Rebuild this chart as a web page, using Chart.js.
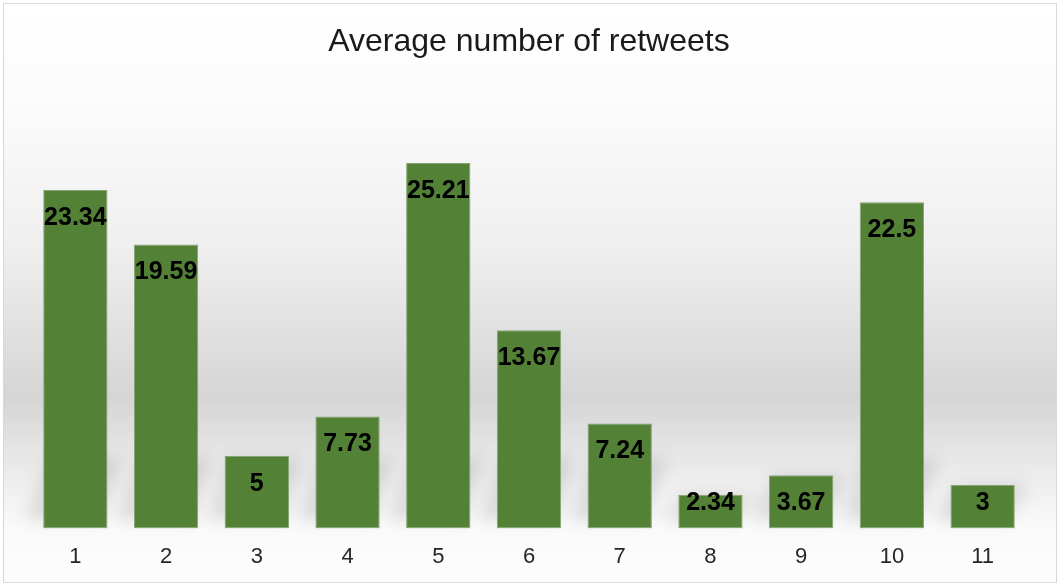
<!DOCTYPE html>
<html>
<head>
<meta charset="utf-8">
<script src="https://cdn.jsdelivr.net/npm/chart.js@4"></script>
<style>
  html, body { margin: 0; padding: 0; background: #fff; }
  #wrap { width: 1059px; height: 585px; }
</style>
</head>
<body>
<div id="wrap"><canvas id="chart"></canvas></div>
<script>
// data
const categories = ["1", "2", "3", "4", "5", "6", "7", "8", "9", "10", "11"]
const retweets = [23.34, 19.59, 5, 7.73, 25.21, 13.67, 7.24, 2.34, 3.67, 22.5, 3]
const chartTitle = "Average number of retweets"

// grey band behind the plot + frame
const backdrop = {
    id: "backdrop",
    beforeDraw(chart) {
        const c = chart.ctx
        const g = c.createLinearGradient(0, 3, 0, 583)
        g.addColorStop(0, "#ffffff")
        g.addColorStop(0.16, "#fcfcfc")
        g.addColorStop(0.42, "#efefef")
        g.addColorStop(0.68, "#d5d5d5")
        g.addColorStop(0.82, "#ededed")
        g.addColorStop(0.905, "#fafafa")
        g.addColorStop(1, "#fdfdfd")
        c.save()
        c.fillStyle = g
        c.fillRect(3, 3, 1054, 580)
        c.strokeStyle = "#d9d9d9"
        c.lineWidth = 1
        c.strokeRect(3.5, 3.5, 1053, 579)
        c.restore()
    }
}

// soft slanted shadow behind each bar
const barShadow = {
    id: "barShadow",
    beforeDatasetsDraw(chart) {
        const c = chart.ctx
        const meta = chart.getDatasetMeta(0)
        c.save()
        c.filter = "blur(8px)"
        c.fillStyle = "rgba(0,0,0,0.10)"
        meta.data.forEach(bar => {
            const half = bar.width / 2
            const left = bar.x - half, right = bar.x + half
            const base = bar.base
            const sh = Math.min(base - bar.y, 70)
            c.beginPath()
            c.moveTo(left - 18, base - 8)
            c.lineTo(right - 8, base - 8)
            c.lineTo(right + 14, base - sh)
            c.lineTo(left + 6, base - sh)
            c.closePath()
            c.fill()
        })
        c.restore()
    }
}

// value labels inside the top of each bar
const valueLabels = {
    id: "valueLabels",
    afterDatasetsDraw(chart) {
        const c = chart.ctx
        const meta = chart.getDatasetMeta(0)
        c.save()
        c.font = "bold 25px 'Liberation Sans', Arial, sans-serif"
        c.fillStyle = "#000"
        c.textAlign = "center"
        c.textBaseline = "middle"
        meta.data.forEach((bar, i) => {
            const y = Math.min(bar.y + 28, bar.base - 25)
            c.fillText(String(retweets[i]), bar.x, y)
        })
        c.restore()
    }
}

const ctx = document.getElementById("chart")

new Chart(ctx, {
    type: "bar",
    data: {
        labels: categories,
        datasets: [{
            label: chartTitle,
            data: retweets,
            backgroundColor: "#538135",
            borderColor: "#86a472",
            borderWidth: 1,
            borderSkipped: false,
            categoryPercentage: 1,
            barPercentage: 0.709
        }]
    },
    options: {
        responsive: true,
        maintainAspectRatio: false,
        animation: false,
        layout: { padding: { top: 8, left: 30, right: 31, bottom: 0 } },
        plugins: {
            legend: { display: false },
            tooltip: { enabled: false },
            title: {
                display: true,
                text: chartTitle,
                color: "#1a1a1a",
                font: { family: "'Liberation Sans', Arial, sans-serif", size: 32, weight: "normal" },
                padding: { top: 15, bottom: 32 }
            }
        },
        scales: {
            x: {
                grid: { display: false, drawTicks: false },
                border: { display: false },
                ticks: {
                    color: "#262626",
                    padding: 15,
                    font: { family: "'Liberation Sans', Arial, sans-serif", size: 22 }
                }
            },
            y: {
                display: false,
                min: 0,
                max: 30
            }
        }
    },
    plugins: [backdrop, barShadow, valueLabels]
});
</script>
</body>
</html>
